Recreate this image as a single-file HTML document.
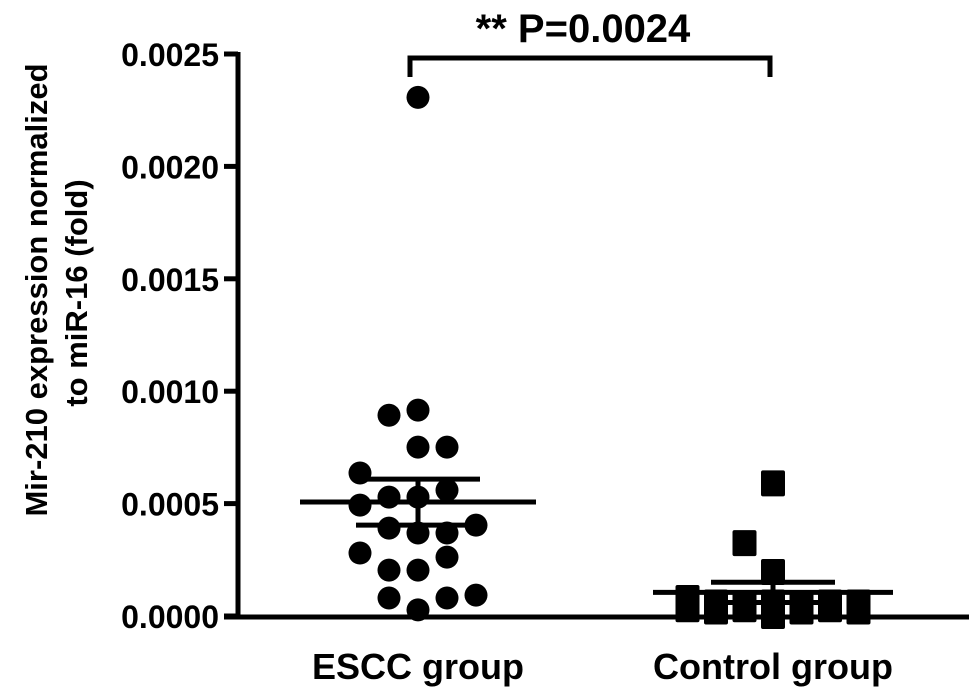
<!DOCTYPE html>
<html><head><meta charset="utf-8"><style>
html,body{margin:0;padding:0;background:#fff;}
svg{display:block;font-family:"Liberation Sans",Arial,sans-serif;font-weight:bold;}
</style></head><body>
<svg id="chart" width="969" height="699" viewBox="0 0 969 699" xmlns="http://www.w3.org/2000/svg">
<g id="axes"></g>
<g id="marks"></g>
<text x="583" y="42" font-size="40" text-anchor="middle">** P=0.0024</text>
<path d="M410,77 L410,58 L770,58 L770,77" fill="none" stroke="#000" stroke-width="5"/>
<text transform="translate(47,290) rotate(-90)" font-size="31" text-anchor="middle">Mir-210 expression normalized</text>
<text transform="translate(87,293) rotate(-90)" font-size="31" text-anchor="middle">to miR-16 (fold)</text>
</svg>
<script>
const categories = ["ESCC group", "Control group"];
const yTicks = [0, 0.0005, 0.0010, 0.0015, 0.0020, 0.0025];
const yTickLabels = ["0.0000","0.0005","0.0010","0.0015","0.0020","0.0025"];
const esccValues = [0.002307,0.000893,0.000916,0.000751,0.000751,0.000636,0.000493,0.000529,0.000529,0.000560,0.000391,0.000369,0.000369,0.000404,0.000280,0.000204,0.000204,0.000262,0.000080,0.000080,0.000093,0.000027];
const esccOffsets = [0,-1,0,0,1,-2,-2,-1,0,1,-1,0,1,2,-2,-1,0,1,-1,1,2,0];
const controlValues = [0.000590,0.000324,0.000196,0.000080,0.000060,0.000050,0.000060,0.000050,0.000060,0.000060,0.000030,0.000020,0.000030,0.000020,0.000030,0.000020,0.000000];
const controlOffsets = [0,-1,0,-3,-2,-1,0,1,2,3,-3,-2,-1,1,2,3,0];
const esccStats = [0.000507, 0.000609, 0.000404];
const controlStats = [0.000105, 0.000150, 0.000060];

const NS="http://www.w3.org/2000/svg";
const X0=238, XEND=969, Y0=616, YTOP=54;
function yScale(v){return Y0-(v/0.0025)*(Y0-YTOP);}
const centers=[418,773];
function xScale(i,off,step){return centers[i]+off*step;}
function mk(tag,attrs,parent){const e=document.createElementNS(NS,tag);for(const k in attrs)e.setAttribute(k,attrs[k]);parent.appendChild(e);return e;}
const axes=document.getElementById('axes'), marks=document.getElementById('marks');

let yl=mk('line',{x1:X0,y1:YTOP-2,x2:X0,y2:Y0+3,stroke:'#000','stroke-width':5},axes);


let xl=mk('line',{x1:224,y1:Y0+1,x2:XEND,y2:Y0+1,stroke:'#000','stroke-width':5},axes);


yTicks.forEach((t,i)=>{
  const y=yScale(t);
  const tk=mk('line',{x1:224,y1:y,x2:X0,y2:y,stroke:'#000','stroke-width':5},axes);
  
  
  const tx=mk('text',{x:219,y:y+12,'font-size':32,'text-anchor':'end'},axes);
  tx.textContent=yTickLabels[i];
  
  
});
categories.forEach((c,i)=>{
  const tx=mk('text',{x:centers[i],y:679,'font-size':36,'text-anchor':'middle'},axes);
  tx.textContent=c;
  
  
});

function stats(i,s,meanHalf,semHalf){
  const cx=centers[i];
  const m=mk('line',{x1:cx-meanHalf,y1:yScale(s[0]),x2:cx+meanHalf,y2:yScale(s[0]),stroke:'#000','stroke-width':5},marks);
  
  
  [s[1],s[2]].forEach(v=>{
    const l=mk('line',{x1:cx-semHalf,y1:yScale(v),x2:cx+semHalf,y2:yScale(v),stroke:'#000','stroke-width':5},marks);
    
    
  });
  const v=mk('line',{x1:cx,y1:yScale(s[1]),x2:cx,y2:yScale(s[2]),stroke:'#000','stroke-width':5},marks);
  
  
}
esccValues.forEach((v,k)=>{
  const c=mk('circle',{cx:xScale(0,esccOffsets[k],29),cy:yScale(v),r:11.5,fill:'#000'},marks);
  
  
});
stats(0,esccStats,118,62);
controlValues.forEach((v,k)=>{
  const x=xScale(1,controlOffsets[k],28.5), y=yScale(v);
  const r=mk('rect',{x:x-12,y:y-13,width:24,height:26,rx:2,fill:'#000'},marks);
  
  
});
stats(1,controlStats,120,62);
</script>
</body></html>
